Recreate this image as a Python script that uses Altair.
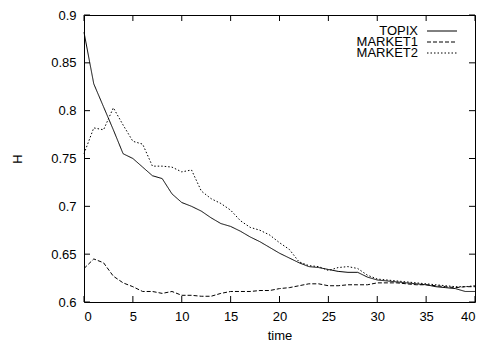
import altair as alt
import pandas as pd

time = list(range(41))
topix = [0.882, 0.828, 0.804, 0.780, 0.755, 0.750, 0.741, 0.732, 0.729, 0.713,
         0.704, 0.700, 0.695, 0.688, 0.682, 0.679, 0.674, 0.668, 0.663, 0.657,
         0.651, 0.646, 0.641, 0.637, 0.636, 0.634, 0.632, 0.631, 0.631, 0.626,
         0.623, 0.622, 0.621, 0.620, 0.619, 0.618, 0.616, 0.615, 0.614, 0.611,
         0.611]
market1 = [0.635, 0.645, 0.641, 0.627, 0.620, 0.616, 0.611, 0.611, 0.609, 0.611,
           0.607, 0.607, 0.606, 0.606, 0.609, 0.611, 0.611, 0.611, 0.612, 0.612,
           0.614, 0.615, 0.617, 0.619, 0.619, 0.617, 0.617, 0.618, 0.618, 0.618,
           0.620, 0.620, 0.620, 0.619, 0.618, 0.618, 0.617, 0.616, 0.615, 0.616,
           0.616]
market2 = [0.755, 0.782, 0.780, 0.803, 0.785, 0.768, 0.765, 0.742, 0.742, 0.741,
           0.736, 0.738, 0.716, 0.708, 0.703, 0.696, 0.685, 0.678, 0.675, 0.670,
           0.662, 0.655, 0.642, 0.638, 0.637, 0.633, 0.636, 0.637, 0.635, 0.628,
           0.624, 0.623, 0.622, 0.621, 0.620, 0.619, 0.618, 0.617, 0.616, 0.616,
           0.617]
series_names = ["TOPIX", "MARKET1", "MARKET2"]
legend_rows = [0, 1, 2]
x_ticks = [0, 5, 10, 15, 20, 25, 30, 35, 40]
y_ticks = [0.6, 0.65, 0.7, 0.75, 0.8, 0.85, 0.9]

W, H = 391, 287
FONT = "Liberation Sans"

rows = []
for name, vals in zip(series_names, [topix, market1, market2]):
    for t, v in zip(time, vals):
        rows.append({"time": t, "H": v, "series": name})
df = pd.DataFrame(rows)

xscale = alt.Scale(domain=[0, 40], nice=False, zero=False)
yscale = alt.Scale(domain=[0.6, 0.9], nice=False, zero=False)
dash = alt.Scale(domain=series_names, range=[[1, 0], [4, 2], [1.5, 2]])

lines = alt.Chart(df).mark_line(color="black", strokeWidth=1).encode(
    x=alt.X("time:Q", scale=xscale,
            axis=alt.Axis(values=x_ticks, title="time", ticks=False, domain=False, grid=False,
                          labelPadding=8, titleX=W / 2, titleY=37,
                          titleBaseline="alphabetic")),
    y=alt.Y("H:Q", scale=yscale,
            axis=alt.Axis(values=y_ticks, format=".2~f", title="H", ticks=False, domain=False,
                          grid=False, labelPadding=8, titleAngle=270, titleX=-67,
                          titleY=H / 2, titleBaseline="middle", titleAlign="center")),
    strokeDash=alt.StrokeDash("series:N", scale=dash, legend=None),
    detail="series:N",
)

xt = pd.DataFrame({"xt": x_ticks})
yt = pd.DataFrame({"yt": y_ticks})
tb = alt.Chart(xt).mark_rule(color="black", strokeWidth=1).encode(
    x=alt.X("xt:Q", scale=xscale), y=alt.value(H), y2=alt.value(H - 6))
tt = alt.Chart(xt).mark_rule(color="black", strokeWidth=1).encode(
    x=alt.X("xt:Q", scale=xscale), y=alt.value(0), y2=alt.value(6))
tl = alt.Chart(yt).mark_rule(color="black", strokeWidth=1).encode(
    y=alt.Y("yt:Q", scale=yscale), x=alt.value(0), x2=alt.value(6))
tr = alt.Chart(yt).mark_rule(color="black", strokeWidth=1).encode(
    y=alt.Y("yt:Q", scale=yscale), x=alt.value(W), x2=alt.value(W - 6))

leg = pd.DataFrame({"series": series_names, "row": legend_rows})
lscale = alt.Scale(domain=[0, 2], range=[16, 38], nice=False, zero=False)
leg_text = alt.Chart(leg).mark_text(align="right", baseline="middle", font=FONT,
                                    fontSize=13, color="black").encode(
    x=alt.value(334),
    y=alt.Y("row:Q", scale=lscale, axis=None),
    text="series:N",
)
leg_line = alt.Chart(leg).mark_rule(color="black", strokeWidth=1).encode(
    x=alt.value(343), x2=alt.value(373),
    y=alt.Y("row:Q", scale=lscale, axis=None),
    strokeDash=alt.StrokeDash("series:N", scale=dash, legend=None),
)

main = alt.layer(lines, tb, tt, tl, tr)
legend = alt.layer(leg_text, leg_line)

chart = alt.layer(main, legend).resolve_scale(y="independent").properties(
    width=W, height=H,
    autosize=alt.AutoSizeParams(type="none"),
    padding={"left": 76, "top": 7, "right": 9, "bottom": 45},
).configure_view(stroke="black", strokeWidth=1).configure_axis(
    labelFont=FONT, titleFont=FONT, labelFontSize=13, titleFontSize=13,
    labelColor="black", titleColor="black", titleFontWeight="normal",
)

chart.save("out.html", embed_options={"renderer": "svg", "actions": False})
